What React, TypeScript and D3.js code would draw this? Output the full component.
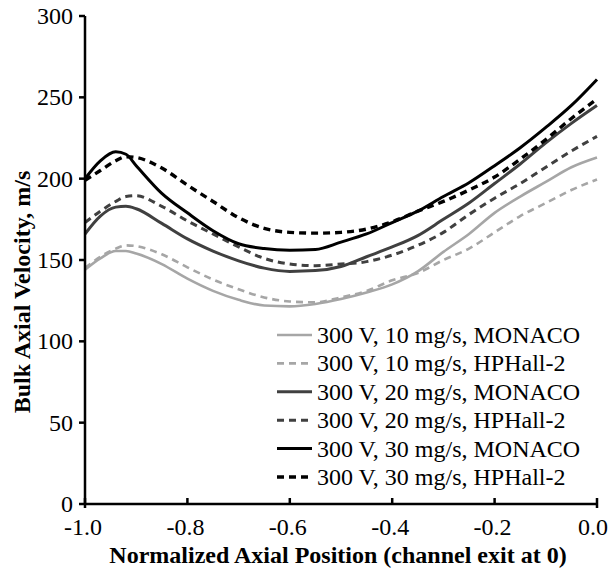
import React from "react";
import * as d3 from "d3";

const xs = [-1.0, -0.97, -0.94, -0.92, -0.9, -0.85, -0.8, -0.75, -0.7, -0.65, -0.6, -0.55, -0.5, -0.45, -0.4, -0.35, -0.3, -0.25, -0.2, -0.15, -0.1, -0.05, 0.0];

const v10Monaco = [144, 151, 155.5, 155.5, 154, 147.5, 138.5, 131, 125.5, 122, 121.5, 123, 126, 130, 135, 143, 155, 166, 179, 189, 198, 207, 213];
const v10HPHall = [145, 152, 157, 159, 158.5, 153.5, 145.5, 138, 132, 127, 124.5, 124, 127, 131, 137.5, 142, 150, 157, 167, 177, 185, 193, 199.5];
const v20Monaco = [166, 177, 182.5, 183, 181.5, 172.5, 163, 155.5, 149.5, 145, 143, 143.5, 146, 152, 158, 165, 175, 185, 197, 209, 222, 234, 245];
const v20HPHall = [173, 180, 186, 189, 189.5, 183, 174, 166, 158, 151, 147.5, 146.5, 147.5, 149, 153, 159, 167, 178, 188, 197, 207, 217, 226];
const v30Monaco = [200, 211, 216.5, 215, 208, 191, 179, 168, 160, 157, 156, 156.5, 161, 166, 173, 180, 189, 197.5, 208, 219, 231.5, 245, 261];
const v30HPHall = [199, 205, 211, 213.5, 213, 206.5, 196, 186, 176, 169.5, 167, 166.5, 167, 169, 173.5, 180, 186, 193, 201, 212, 224, 237, 249];

const seriesNames = [
  "300 V, 10 mg/s, MONACO",
  "300 V, 10 mg/s, HPHall-2",
  "300 V, 20 mg/s, MONACO",
  "300 V, 20 mg/s, HPHall-2",
  "300 V, 30 mg/s, MONACO",
  "300 V, 30 mg/s, HPHall-2",
];
const seriesValues = [v10Monaco, v10HPHall, v20Monaco, v20HPHall, v30Monaco, v30HPHall];
const seriesColors = ["#a6a6a6", "#a6a6a6", "#404040", "#404040", "#000000", "#000000"];
const seriesDashed = [false, true, false, true, false, true];
const seriesWidths = [2.6, 2.6, 3, 3, 3, 3.4];

const xTicks = [-1.0, -0.8, -0.6, -0.4, -0.2, 0.0];
const yTicks = [0, 50, 100, 150, 200, 250, 300];

const W = 610;
const H = 569;
const L = 85;
const R = 597;
const T = 16;
const B = 504;

export default function App() {
  const x = d3.scaleLinear().domain([-1, 0]).range([L, R]);
  const y = d3.scaleLinear().domain([0, 300]).range([B, T]);
  const line = d3
    .line<[number, number]>()
    .x((d) => x(d[0]))
    .y((d) => y(d[1]))
    .curve(d3.curveMonotoneX);

  const font = "'Liberation Serif', 'Times New Roman', serif";
  const legX = 277;
  const legY0 = 335;
  const legDy = 28.4;

  return (
    <svg width={W} height={H} style={{ position: "absolute", left: 0, top: 0, background: "#fff" }} fontFamily={font}>
      <rect x={0} y={0} width={W} height={H} fill="#fff" />
      {seriesValues.map((vals, i) => (
        <path
          key={i}
          d={line(xs.map((xv, j) => [xv, vals[j]] as [number, number])) || ""}
          fill="none"
          stroke={seriesColors[i]}
          strokeWidth={seriesWidths[i]}
          strokeDasharray={seriesDashed[i] ? "7 5" : undefined}
          strokeLinejoin="round"
        />
      ))}
      {/* axes */}
      <line x1={L} x2={L} y1={T} y2={B + 4} stroke="#000" strokeWidth={2.5} />
      <line x1={L - 1} x2={R + 1} y1={B} y2={B} stroke="#000" strokeWidth={2.5} />
      <line x1={R} x2={R} y1={B} y2={B + 4} stroke="#000" strokeWidth={2.5} />
      {yTicks.map((t) => (
        <g key={t}>
          <line x1={L - 6} x2={L} y1={y(t)} y2={y(t)} stroke="#000" strokeWidth={2.5} />
          <text x={L - 12} y={y(t)} dy="0.33em" textAnchor="end" fontSize={24}>
            {t}
          </text>
        </g>
      ))}
      {xTicks.map((t) => (
        <g key={t}>
          <line x1={x(t)} x2={x(t)} y1={B} y2={B - 6} stroke="#000" strokeWidth={2.5} />
          <text x={x(t) - (t === 0 ? 4 : 2)} y={B + 31} textAnchor="middle" fontSize={24}>
            {t.toFixed(1)}
          </text>
        </g>
      ))}
      <text x={(L + R) / 2 - 3} y={563} textAnchor="middle" fontSize={24} fontWeight="bold">
        Normalized Axial Position (channel exit at 0)
      </text>
      <text
        transform={`translate(30, 292) rotate(-90)`}
        textAnchor="middle"
        fontSize={24}
        fontWeight="bold"
      >
        Bulk Axial Velocity, m/s
      </text>
      {/* legend */}
      {seriesNames.map((name, i) => (
        <g key={name}>
          <line
            x1={legX}
            x2={legX + 35}
            y1={legY0 + i * legDy}
            y2={legY0 + i * legDy}
            stroke={seriesColors[i]}
            strokeWidth={seriesWidths[i]}
            strokeDasharray={seriesDashed[i] ? "7 5" : undefined}
          />
          <text x={legX + 40} y={legY0 + i * legDy} dy="0.33em" fontSize={24}>
            {name}
          </text>
        </g>
      ))}
    </svg>
  );
}
